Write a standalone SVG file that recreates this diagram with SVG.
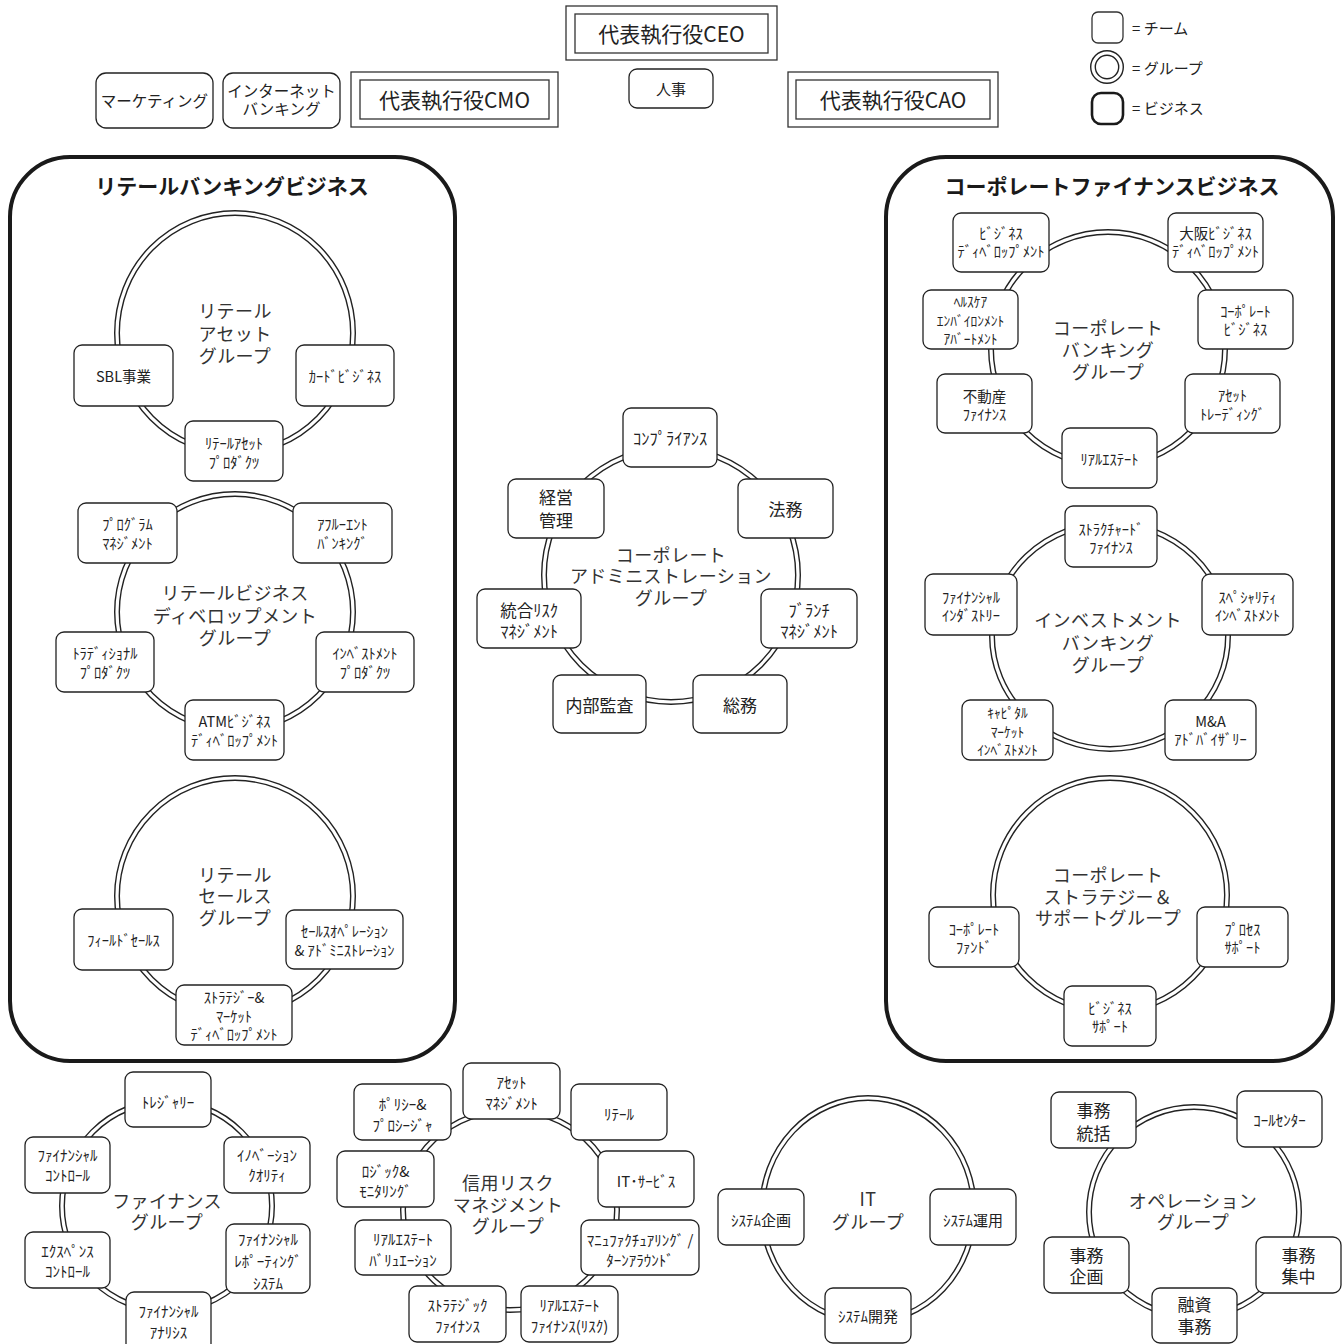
<svg xmlns="http://www.w3.org/2000/svg" width="1343" height="1344" viewBox="0 0 1343 1344">
<style>
text{font-family:"Noto Sans CJK JP","Noto Sans CJK SC",sans-serif;fill:#222;text-anchor:middle}
.t rect{fill:#fff;stroke:#222;stroke-width:1.3}
.dbl rect{fill:#fff;stroke:#333;stroke-width:1.3}
.biz{fill:#fff;stroke:#1a1a1a;stroke-width:4}
.ro{fill:none;stroke:#222;stroke-width:6}
.ri{fill:none;stroke:#fff;stroke-width:3.2}
.g{font-size:18px;fill:#333;letter-spacing:0.4px}
.bt{font-size:21px;font-weight:bold;fill:#1a1a1a}
.s13{font-size:13.5px}.s14{font-size:14.5px}.s15{font-size:15px}.s16{font-size:16.5px}.s17{font-size:17px}.s21{font-size:21px}
.lg{text-anchor:start;font-size:15px}
</style>

<!-- legend -->
<g id="legend">
<rect x="1092" y="12" width="31" height="31" rx="6" fill="#fff" stroke="#333" stroke-width="1.3"/>
<text class="lg" x="1132" y="34">= チーム</text>
<circle class="ro" cx="1107" cy="67" r="14"/><circle class="ri" cx="1107" cy="67" r="14"/>
<text class="lg" x="1132" y="74">= グループ</text>
<rect x="1092" y="93" width="31" height="31" rx="9" fill="#fff" stroke="#1a1a1a" stroke-width="2.6"/>
<text class="lg" x="1132" y="114">= ビジネス</text>
</g>

<!-- top level -->
<g id="ceo" class="dbl"><rect x="566" y="6" width="211" height="54"/><rect x="575" y="14" width="193" height="39"/><text class="s21" x="671.5" y="42">代表執行役CEO</text></g>
<g id="cmo" class="dbl"><rect x="351" y="72" width="207" height="55"/><rect x="360" y="80" width="189" height="39"/><text class="s21" x="454.5" y="108">代表執行役CMO</text></g>
<g id="cao" class="dbl"><rect x="788" y="72" width="210" height="55"/><rect x="796" y="80" width="194" height="39"/><text class="s21" x="893" y="108">代表執行役CAO</text></g>
<g id="marketing" class="t"><rect x="96" y="73" width="117" height="55" rx="10"/><text style="font-size:15.5px" x="154.5" y="107">マーケティング</text></g>
<g id="internet" class="t"><rect x="223" y="73" width="117" height="55" rx="10"/><text style="font-size:15.5px"><tspan x="281.5" y="97">インターネット</tspan><tspan x="281.5" y="115">バンキング</tspan></text></g>
<g id="jinji" class="t"><rect x="629" y="69" width="84" height="39" rx="8"/><text class="s15" x="671" y="95">人事</text></g>

<!-- businesses -->
<g id="retail-business"><rect class="biz" x="10" y="157" width="445" height="904" rx="60"/><text class="bt" x="232" y="194">リテールバンキングビジネス</text></g>
<g id="corporate-finance-business"><rect class="biz" x="886" y="157" width="447" height="904" rx="60"/><text class="bt" x="1112" y="194">コーポレートファイナンスビジネス</text></g>

<!-- groups (rings) -->
<g id="connectors">
<ellipse class="ro" cx="235" cy="333" rx="118" ry="120"/><ellipse class="ri" cx="235" cy="333" rx="118" ry="120"/>
<ellipse class="ro" cx="235" cy="612" rx="118" ry="118"/><ellipse class="ri" cx="235" cy="612" rx="118" ry="118"/>
<ellipse class="ro" cx="235" cy="896" rx="118" ry="118"/><ellipse class="ri" cx="235" cy="896" rx="118" ry="118"/>
<ellipse class="ro" cx="671" cy="575" rx="127" ry="127"/><ellipse class="ri" cx="671" cy="575" rx="127" ry="127"/>
<ellipse class="ro" cx="1108" cy="349" rx="117" ry="117"/><ellipse class="ri" cx="1108" cy="349" rx="117" ry="117"/>
<ellipse class="ro" cx="1110" cy="636" rx="118" ry="113"/><ellipse class="ri" cx="1110" cy="636" rx="118" ry="113"/>
<ellipse class="ro" cx="1110" cy="895" rx="117" ry="117"/><ellipse class="ri" cx="1110" cy="895" rx="117" ry="117"/>
<ellipse class="ro" cx="167" cy="1206" rx="105" ry="105"/><ellipse class="ri" cx="167" cy="1206" rx="105" ry="105"/>
<ellipse class="ro" cx="510" cy="1210" rx="107" ry="100"/><ellipse class="ri" cx="510" cy="1210" rx="107" ry="100"/>
<ellipse class="ro" cx="868" cy="1210" rx="106" ry="112"/><ellipse class="ri" cx="868" cy="1210" rx="106" ry="112"/>
<ellipse class="ro" cx="1194" cy="1212" rx="105" ry="105"/><ellipse class="ri" cx="1194" cy="1212" rx="105" ry="105"/>
</g>

<!-- group labels -->
<g id="grp-retail-asset"><text class="g"><tspan x="235" y="318">リテール</tspan><tspan x="235" y="340.5">アセット</tspan><tspan x="235" y="363">グループ</tspan></text></g>
<g id="grp-retail-bizdev"><text class="g"><tspan x="235" y="600">リテールビジネス</tspan><tspan x="235" y="623">ディベロップメント</tspan><tspan x="235" y="645">グループ</tspan></text></g>
<g id="grp-retail-sales"><text class="g"><tspan x="235" y="882">リテール</tspan><tspan x="235" y="903">セールス</tspan><tspan x="235" y="925">グループ</tspan></text></g>
<g id="grp-corp-admin"><text class="g"><tspan x="671" y="562">コーポレート</tspan><tspan x="671" y="583">アドミニストレーション</tspan><tspan x="671" y="605">グループ</tspan></text></g>
<g id="grp-corp-banking"><text class="g"><tspan x="1108" y="335">コーポレート</tspan><tspan x="1108" y="357">バンキング</tspan><tspan x="1108" y="379">グループ</tspan></text></g>
<g id="grp-invest-banking"><text class="g"><tspan x="1108" y="627">インベストメント</tspan><tspan x="1108" y="650">バンキング</tspan><tspan x="1108" y="672">グループ</tspan></text></g>
<g id="grp-corp-strategy"><text class="g"><tspan x="1108" y="882">コーポレート</tspan><tspan x="1108" y="904">ストラテジー＆</tspan><tspan x="1108" y="925">サポートグループ</tspan></text></g>
<g id="grp-finance"><text class="g"><tspan x="167" y="1208">ファイナンス</tspan><tspan x="167" y="1229">グループ</tspan></text></g>
<g id="grp-credit-risk"><text class="g"><tspan x="508" y="1190">信用リスク</tspan><tspan x="508" y="1212">マネジメント</tspan><tspan x="508" y="1233">グループ</tspan></text></g>
<g id="grp-it"><text class="g"><tspan x="868" y="1206">IT</tspan><tspan x="868" y="1229">グループ</tspan></text></g>
<g id="grp-operation"><text class="g"><tspan x="1193" y="1208">オペレーション</tspan><tspan x="1193" y="1229">グループ</tspan></text></g>

<!-- retail asset teams -->
<g id="sbl" class="t"><rect x="74" y="345" width="99" height="61" rx="8"/><text class="s14" x="123.5" y="382">SBL事業</text></g>
<g id="card" class="t"><rect x="296" y="345" width="98" height="61" rx="8"/><text class="s14" x="345" y="382">ｶｰﾄﾞﾋﾞｼﾞﾈｽ</text></g>
<g id="retail-asset-products" class="t"><rect x="185" y="421" width="98" height="60" rx="8"/><text class="s14"><tspan x="234" y="449">ﾘﾃｰﾙｱｾｯﾄ</tspan><tspan x="234" y="468">ﾌﾟﾛﾀﾞｸﾂ</tspan></text></g>

<!-- retail biz dev teams -->
<g id="program-mgmt" class="t"><rect x="78" y="503" width="99" height="60" rx="8"/><text class="s14"><tspan x="127.5" y="530">ﾌﾟﾛｸﾞﾗﾑ</tspan><tspan x="127.5" y="549">ﾏﾈｼﾞﾒﾝﾄ</tspan></text></g>
<g id="affluent" class="t"><rect x="293" y="503" width="99" height="60" rx="8"/><text class="s14"><tspan x="342.5" y="530">ｱﾌﾙｰｴﾝﾄ</tspan><tspan x="342.5" y="549">ﾊﾞﾝｷﾝｸﾞ</tspan></text></g>
<g id="traditional" class="t"><rect x="56" y="632" width="98" height="60" rx="8"/><text class="s14"><tspan x="105" y="659">ﾄﾗﾃﾞｨｼｮﾅﾙ</tspan><tspan x="105" y="678">ﾌﾟﾛﾀﾞｸﾂ</tspan></text></g>
<g id="investment-products" class="t"><rect x="316" y="632" width="98" height="60" rx="8"/><text class="s14"><tspan x="365" y="659">ｲﾝﾍﾞｽﾄﾒﾝﾄ</tspan><tspan x="365" y="678">ﾌﾟﾛﾀﾞｸﾂ</tspan></text></g>
<g id="atm" class="t"><rect x="185" y="700" width="99" height="60" rx="8"/><text class="s14"><tspan x="234.5" y="727">ATMﾋﾞｼﾞﾈｽ</tspan><tspan x="234.5" y="746">ﾃﾞｨﾍﾞﾛｯﾌﾟﾒﾝﾄ</tspan></text></g>

<!-- retail sales teams -->
<g id="field-sales" class="t"><rect x="74" y="909" width="99" height="61" rx="8"/><text class="s14" x="123.5" y="946">ﾌｨｰﾙﾄﾞｾｰﾙｽ</text></g>
<g id="sales-ops" class="t"><rect x="286" y="910" width="117" height="59" rx="8"/><text class="s14"><tspan x="344.5" y="937">ｾｰﾙｽｵﾍﾟﾚｰｼｮﾝ</tspan><tspan x="344.5" y="956">&amp; ｱﾄﾞﾐﾆｽﾄﾚｰｼｮﾝ</tspan></text></g>
<g id="strategy-market" class="t"><rect x="176" y="985" width="116" height="60" rx="8"/><text class="s14"><tspan x="234" y="1003">ｽﾄﾗﾃｼﾞｰ&amp;</tspan><tspan x="234" y="1021.5">ﾏｰｹｯﾄ</tspan><tspan x="234" y="1040">ﾃﾞｨﾍﾞﾛｯﾌﾟﾒﾝﾄ</tspan></text></g>

<!-- corporate admin teams -->
<g id="compliance" class="t"><rect x="623" y="408" width="94" height="59" rx="8"/><text class="s16" x="670" y="445">ｺﾝﾌﾟﾗｲｱﾝｽ</text></g>
<g id="keiei" class="t"><rect x="508" y="479" width="96" height="59" rx="8"/><text class="s17"><tspan x="556" y="504">経営</tspan><tspan x="556" y="527">管理</tspan></text></g>
<g id="houmu" class="t"><rect x="738" y="479" width="95" height="59" rx="8"/><text class="s17" x="785.5" y="516">法務</text></g>
<g id="integrated-risk" class="t"><rect x="477" y="589" width="104" height="59" rx="8"/><text class="s16"><tspan x="529" y="617">統合ﾘｽｸ</tspan><tspan x="529" y="638">ﾏﾈｼﾞﾒﾝﾄ</tspan></text></g>
<g id="branch" class="t"><rect x="761" y="589" width="96" height="59" rx="8"/><text class="s16"><tspan x="809" y="617">ﾌﾞﾗﾝﾁ</tspan><tspan x="809" y="638">ﾏﾈｼﾞﾒﾝﾄ</tspan></text></g>
<g id="audit" class="t"><rect x="553" y="675" width="93" height="58" rx="8"/><text class="s17" x="599.5" y="712">内部監査</text></g>
<g id="soumu" class="t"><rect x="693" y="675" width="94" height="58" rx="8"/><text class="s17" x="740" y="712">総務</text></g>

<!-- corporate banking teams -->
<g id="biz-dev" class="t"><rect x="953" y="213" width="96" height="59" rx="8"/><text class="s14"><tspan x="1001" y="239">ﾋﾞｼﾞﾈｽ</tspan><tspan x="1001" y="257">ﾃﾞｨﾍﾞﾛｯﾌﾟﾒﾝﾄ</tspan></text></g>
<g id="osaka-biz-dev" class="t"><rect x="1168" y="213" width="95" height="59" rx="8"/><text class="s14"><tspan x="1215.5" y="239">大阪ﾋﾞｼﾞﾈｽ</tspan><tspan x="1215.5" y="257">ﾃﾞｨﾍﾞﾛｯﾌﾟﾒﾝﾄ</tspan></text></g>
<g id="healthcare" class="t"><rect x="923" y="290" width="95" height="59" rx="8"/><text class="s13"><tspan x="970.5" y="307">ﾍﾙｽｹｱ</tspan><tspan x="970.5" y="326">ｴﾝﾊﾞｲﾛﾝﾒﾝﾄ</tspan><tspan x="970.5" y="344">ｱﾊﾞｰﾄﾒﾝﾄ</tspan></text></g>
<g id="corporate-biz" class="t"><rect x="1198" y="290" width="95" height="59" rx="8"/><text class="s14"><tspan x="1245.5" y="317">ｺｰﾎﾟﾚｰﾄ</tspan><tspan x="1245.5" y="335">ﾋﾞｼﾞﾈｽ</tspan></text></g>
<g id="real-estate-finance" class="t"><rect x="937" y="374" width="95" height="59" rx="8"/><text class="s14"><tspan x="984.5" y="402">不動産</tspan><tspan x="984.5" y="420">ﾌｧｲﾅﾝｽ</tspan></text></g>
<g id="asset-trading" class="t"><rect x="1185" y="374" width="95" height="59" rx="8"/><text class="s14"><tspan x="1232.5" y="401">ｱｾｯﾄ</tspan><tspan x="1232.5" y="420">ﾄﾚｰﾃﾞｨﾝｸﾞ</tspan></text></g>
<g id="real-estate" class="t"><rect x="1062" y="428" width="95" height="60" rx="8"/><text class="s14" x="1109.5" y="465">ﾘｱﾙｴｽﾃｰﾄ</text></g>

<!-- investment banking teams -->
<g id="structured" class="t"><rect x="1065" y="506" width="92" height="61" rx="8"/><text class="s14"><tspan x="1111" y="535">ｽﾄﾗｸﾁｬｰﾄﾞ</tspan><tspan x="1111" y="553">ﾌｧｲﾅﾝｽ</tspan></text></g>
<g id="financial-industry" class="t"><rect x="925" y="574" width="92" height="61" rx="8"/><text class="s14"><tspan x="971" y="603">ﾌｧｲﾅﾝｼｬﾙ</tspan><tspan x="971" y="621">ｲﾝﾀﾞｽﾄﾘｰ</tspan></text></g>
<g id="specialty" class="t"><rect x="1202" y="574" width="91" height="61" rx="8"/><text class="s14"><tspan x="1247.5" y="603">ｽﾍﾟｼｬﾘﾃｨ</tspan><tspan x="1247.5" y="621">ｲﾝﾍﾞｽﾄﾒﾝﾄ</tspan></text></g>
<g id="capital-market" class="t"><rect x="962" y="700" width="91" height="60" rx="8"/><text class="s13"><tspan x="1007.5" y="718">ｷｬﾋﾟﾀﾙ</tspan><tspan x="1007.5" y="737">ﾏｰｹｯﾄ</tspan><tspan x="1007.5" y="755">ｲﾝﾍﾞｽﾄﾒﾝﾄ</tspan></text></g>
<g id="ma-advisory" class="t"><rect x="1165" y="700" width="91" height="60" rx="8"/><text class="s14"><tspan x="1210.5" y="727">M&amp;A</tspan><tspan x="1210.5" y="745">ｱﾄﾞﾊﾞｲｻﾞﾘｰ</tspan></text></g>

<!-- corporate strategy teams -->
<g id="corporate-fund" class="t"><rect x="929" y="907" width="90" height="60" rx="8"/><text class="s14"><tspan x="974" y="935">ｺｰﾎﾟﾚｰﾄ</tspan><tspan x="974" y="953">ﾌｧﾝﾄﾞ</tspan></text></g>
<g id="process-support" class="t"><rect x="1197" y="907" width="91" height="60" rx="8"/><text class="s14"><tspan x="1242.5" y="935">ﾌﾟﾛｾｽ</tspan><tspan x="1242.5" y="953">ｻﾎﾟｰﾄ</tspan></text></g>
<g id="business-support" class="t"><rect x="1064" y="986" width="92" height="60" rx="8"/><text class="s14"><tspan x="1110" y="1014">ﾋﾞｼﾞﾈｽ</tspan><tspan x="1110" y="1032">ｻﾎﾟｰﾄ</tspan></text></g>

<!-- finance teams -->
<g id="treasury" class="t"><rect x="125" y="1072" width="86" height="55" rx="8"/><text class="s15" x="168" y="1108">ﾄﾚｼﾞｬﾘｰ</text></g>
<g id="fin-control" class="t"><rect x="25" y="1137" width="85" height="56" rx="8"/><text class="s15"><tspan x="67.5" y="1161">ﾌｧｲﾅﾝｼｬﾙ</tspan><tspan x="67.5" y="1181">ｺﾝﾄﾛｰﾙ</tspan></text></g>
<g id="innovation" class="t"><rect x="224" y="1137" width="86" height="56" rx="8"/><text class="s15"><tspan x="267" y="1161">ｲﾉﾍﾞｰｼｮﾝ</tspan><tspan x="267" y="1181">ｸｵﾘﾃｨ</tspan></text></g>
<g id="expense" class="t"><rect x="25" y="1232" width="85" height="56" rx="8"/><text class="s15"><tspan x="67.5" y="1257">ｴｸｽﾍﾟﾝｽ</tspan><tspan x="67.5" y="1277">ｺﾝﾄﾛｰﾙ</tspan></text></g>
<g id="fin-reporting" class="t"><rect x="226" y="1224" width="84" height="69" rx="8"/><text class="s15"><tspan x="268" y="1245">ﾌｧｲﾅﾝｼｬﾙ</tspan><tspan x="268" y="1267">ﾚﾎﾟｰﾃｨﾝｸﾞ</tspan><tspan x="268" y="1289">ｼｽﾃﾑ</tspan></text></g>
<g id="fin-analysis" class="t"><rect x="126" y="1292" width="85" height="62" rx="8"/><text class="s15"><tspan x="168.5" y="1317">ﾌｧｲﾅﾝｼｬﾙ</tspan><tspan x="168.5" y="1338">ｱﾅﾘｼｽ</tspan></text></g>

<!-- credit risk teams -->
<g id="asset-mgmt" class="t"><rect x="463" y="1063" width="97" height="56" rx="8"/><text class="s15"><tspan x="511.5" y="1088">ｱｾｯﾄ</tspan><tspan x="511.5" y="1109">ﾏﾈｼﾞﾒﾝﾄ</tspan></text></g>
<g id="policy" class="t"><rect x="354" y="1084" width="97" height="56" rx="8"/><text class="s15"><tspan x="402.5" y="1110">ﾎﾟﾘｼｰ&amp;</tspan><tspan x="402.5" y="1131">ﾌﾟﾛｼｰｼﾞｬ</tspan></text></g>
<g id="cr-retail" class="t"><rect x="571" y="1084" width="96" height="56" rx="8"/><text class="s15" x="619" y="1120">ﾘﾃｰﾙ</text></g>
<g id="logic" class="t"><rect x="337" y="1151" width="97" height="56" rx="8"/><text class="s15"><tspan x="385.5" y="1177">ﾛｼﾞｯｸ&amp;</tspan><tspan x="385.5" y="1197">ﾓﾆﾀﾘﾝｸﾞ</tspan></text></g>
<g id="it-service" class="t"><rect x="598" y="1151" width="96" height="56" rx="8"/><text class="s15" x="646" y="1187">IT･ｻｰﾋﾞｽ</text></g>
<g id="re-valuation" class="t"><rect x="355" y="1220" width="96" height="55" rx="8"/><text class="s15"><tspan x="403" y="1245">ﾘｱﾙｴｽﾃｰﾄ</tspan><tspan x="403" y="1266">ﾊﾞﾘｭｴｰｼｮﾝ</tspan></text></g>
<g id="manufacturing" class="t"><rect x="581" y="1220" width="118" height="55" rx="8"/><text class="s15"><tspan x="640" y="1246">ﾏﾆｭﾌｧｸﾁｭｱﾘﾝｸﾞ /</tspan><tspan x="640" y="1266">ﾀｰﾝｱﾗｳﾝﾄﾞ</tspan></text></g>
<g id="strategic-finance" class="t"><rect x="409" y="1286" width="97" height="56" rx="8"/><text class="s15"><tspan x="457.5" y="1311">ｽﾄﾗﾃｼﾞｯｸ</tspan><tspan x="457.5" y="1332">ﾌｧｲﾅﾝｽ</tspan></text></g>
<g id="re-finance-risk" class="t"><rect x="521" y="1286" width="97" height="56" rx="8"/><text class="s15"><tspan x="569.5" y="1311">ﾘｱﾙｴｽﾃｰﾄ</tspan><tspan x="569.5" y="1332">ﾌｧｲﾅﾝｽ(ﾘｽｸ)</tspan></text></g>

<!-- IT teams -->
<g id="sys-plan" class="t"><rect x="718" y="1189" width="86" height="56" rx="8"/><text class="s15" x="761" y="1226">ｼｽﾃﾑ企画</text></g>
<g id="sys-ops" class="t"><rect x="930" y="1189" width="86" height="56" rx="8"/><text class="s15" x="973" y="1226">ｼｽﾃﾑ運用</text></g>
<g id="sys-dev" class="t"><rect x="825" y="1288" width="86" height="55" rx="8"/><text class="s15" x="868" y="1322">ｼｽﾃﾑ開発</text></g>

<!-- operation teams -->
<g id="jimu-toukatsu" class="t"><rect x="1051" y="1092" width="85" height="56" rx="8"/><text class="s17"><tspan x="1093.5" y="1117">事務</tspan><tspan x="1093.5" y="1140">統括</tspan></text></g>
<g id="call-center" class="t"><rect x="1237" y="1091" width="85" height="56" rx="8"/><text class="s15" x="1279.5" y="1126">ｺｰﾙｾﾝﾀｰ</text></g>
<g id="jimu-kikaku" class="t"><rect x="1044" y="1237" width="85" height="56" rx="8"/><text class="s17"><tspan x="1086.5" y="1262">事務</tspan><tspan x="1086.5" y="1283">企画</tspan></text></g>
<g id="jimu-shuchu" class="t"><rect x="1256" y="1237" width="85" height="56" rx="8"/><text class="s17"><tspan x="1298.5" y="1262">事務</tspan><tspan x="1298.5" y="1283">集中</tspan></text></g>
<g id="yushi-jimu" class="t"><rect x="1152" y="1288" width="85" height="55" rx="8"/><text class="s17"><tspan x="1194.5" y="1311">融資</tspan><tspan x="1194.5" y="1333">事務</tspan></text></g>
</svg>
